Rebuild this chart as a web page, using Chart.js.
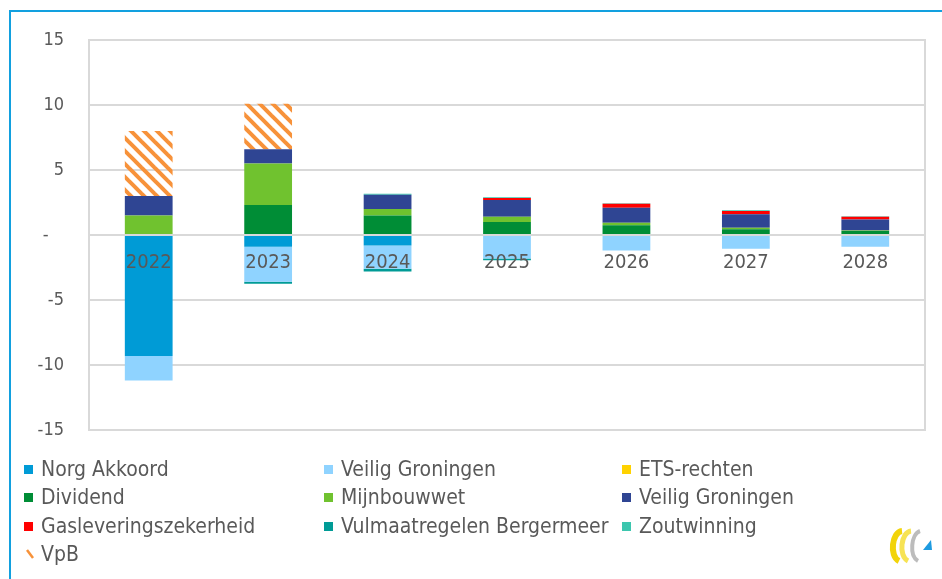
<!DOCTYPE html>
<html>
<head>
<meta charset="utf-8">
<script src="https://cdn.jsdelivr.net/npm/chart.js@4/dist/chart.umd.min.js"></script>
<style>
html,body{margin:0;padding:0;background:#fff;}
#wrap{position:relative;width:942px;height:579px;overflow:hidden;font-family:"DejaVu Sans Condensed","DejaVu Sans",sans-serif;}
#c{position:absolute;left:0;top:0;}
#frame{position:absolute;left:9px;top:10px;width:1000px;height:1000px;border-top:2px solid #12a0df;border-left:2px solid #12a0df;pointer-events:none;}
.lg{position:absolute;font-size:21px;color:#595959;white-space:nowrap;line-height:24px;}
.sw{position:absolute;width:9px;height:9px;}
#logo{position:absolute;left:886px;top:526px;}
</style>
</head>
<body>
<div id="wrap">
<canvas id="c" width="942" height="579"></canvas>
<div id="frame"></div>
<div id="legend"></div>
<svg id="logo" width="50" height="40" viewBox="0 0 50 40">
  <path d="M16 5 C6 6 3 30 13 35" stroke="#f2d40a" stroke-width="6" fill="none"/>
  <path d="M25 5 C15 6 12 30 22 35" stroke="#f7e354" stroke-width="5" fill="none"/>
  <path d="M34 5 C25 8 23 30 32 35" stroke="#bcbcbc" stroke-width="4" fill="none"/>
  <polygon points="45,14 46,24 37,24" fill="#1e9be0"/>
</svg>
</div>
<script>
// ---- data ----
const years = ['2022', '2023', '2024', '2025', '2026', '2027', '2028'];
const yTicks = [15, 10, 5, 0, -5, -10, -15];

const norgAkkoord        = [-9.3, -0.9, -0.8, 0, 0, 0, 0];
const veiligGroningenNeg = [-1.9, -2.7, -1.8, -1.8, -1.2, -1.05, -0.9];
const etsRechten         = [0, 0, 0, 0, 0, 0, 0];
const dividend           = [0, 2.3, 1.5, 1.0, 0.75, 0.45, 0.3];
const mijnbouwwet        = [1.5, 3.2, 0.5, 0.4, 0.2, 0.1, 0.05];
const veiligGroningenPos = [1.5, 1.1, 1.1, 1.3, 1.15, 1.05, 0.85];
const gasleveringszekerheid = [0, 0, 0, 0.15, 0.3, 0.25, 0.2];
const vulmaatregelen     = [0, -0.15, -0.2, -0.15, 0, 0, 0];
const zoutwinning        = [0, 0, 0.08, 0.05, 0.05, 0.05, 0.05];
const vpb                = [5.0, 3.5, 0, 0, 0, 0, 0];

const seriesNames = ['Norg Akkoord', 'Veilig Groningen', 'ETS-rechten', 'Dividend', 'Mijnbouwwet',
  'Veilig Groningen', 'Gasleveringszekerheid', 'Vulmaatregelen Bergermeer', 'Zoutwinning', 'VpB'];
const seriesValues = [norgAkkoord, veiligGroningenNeg, etsRechten, dividend, mijnbouwwet,
  veiligGroningenPos, gasleveringszekerheid, vulmaatregelen, zoutwinning, vpb];
const seriesColors = ['#009bd6', '#8fd3ff', '#ffd200', '#008d36', '#70c22f',
  '#2f4593', '#ff0000', '#009b96', '#3cc6ae', '#f7923a'];

// ---- hatch pattern for VpB ----
function hatch(color) {
  const t = 13;
  const c = document.createElement('canvas');
  c.width = t; c.height = t;
  const g = c.getContext('2d');
  g.strokeStyle = color; g.lineWidth = 4;
  for (const o of [-t, 0, t]) {
    g.beginPath(); g.moveTo(o - 2, -2); g.lineTo(o + t + 2, t + 2); g.stroke();
  }
  return g.createPattern(c, 'repeat');
}

const datasets = seriesNames.map((n, i) => ({
  label: n,
  data: seriesValues[i],
  backgroundColor: i === 9 ? hatch(seriesColors[i]) : seriesColors[i],
  borderWidth: 0,
  stack: 's'
}));

const boxPlugin = {
  id: 'box',
  beforeDatasetsDraw(chart) {
    const a = chart.chartArea, ctx = chart.ctx;
    ctx.save();
    ctx.strokeStyle = '#d9d9d9'; ctx.lineWidth = 2;
    ctx.strokeRect(a.left, a.top, a.right - a.left, a.bottom - a.top);
    ctx.restore();
  }
};

const FONT = '"DejaVu Sans Condensed","DejaVu Sans",sans-serif';

new Chart(document.getElementById('c'), {
  type: 'bar',
  data: { labels: years, datasets },
  plugins: [boxPlugin],
  options: {
    responsive: false,
    animation: false,
    layout: { padding: { left: 0, right: 17, top: 40, bottom: 149 } },
    plugins: { legend: { display: false }, tooltip: { enabled: false } },
    datasets: { bar: { categoryPercentage: 1, barPercentage: 0.4 } },
    scales: {
      x: {
        stacked: true,
        position: { y: 0 },
        grid: { display: false, drawTicks: false },
        border: { display: false },
        ticks: { z: 1, color: '#595959', font: { family: FONT, size: 20 }, padding: 16, maxRotation: 0 }
      },
      y: {
        stacked: true,
        min: -15, max: 15,
        afterFit(s) { s.width = 89; },
        afterBuildTicks(s) { s.ticks = yTicks.map(v => ({ value: v })); },
        grid: { color: '#d9d9d9', lineWidth: 2, drawTicks: false },
        border: { color: '#d9d9d9', width: 2 },
        ticks: {
          color: '#595959', font: { family: FONT, size: 18 }, padding: 25,
          callback: v => v === 0 ? '-   ' : String(v)
        }
      }
    }
  }
});

// ---- legend (real text) ----
const colX = [24, 324, 622];
const rowY = [469, 497, 526, 554];
const lg = document.getElementById('legend');
seriesNames.forEach((n, i) => {
  const col = i % 3, row = Math.floor(i / 3);
  const x = colX[col], y = rowY[row];
  if (i === 9) {
    const s = document.createElementNS('http://www.w3.org/2000/svg', 'svg');
    s.setAttribute('width', '12'); s.setAttribute('height', '12');
    s.style.position = 'absolute'; s.style.left = (x + 1) + 'px'; s.style.top = (y - 6) + 'px';
    s.innerHTML = '<line x1="2" y1="2" x2="8" y2="10" stroke="' + seriesColors[i] + '" stroke-width="2.5"/>';
    lg.appendChild(s);
  } else {
    const sw = document.createElement('div');
    sw.className = 'sw';
    sw.style.left = x + 'px'; sw.style.top = (y - 4) + 'px';
    sw.style.background = seriesColors[i];
    lg.appendChild(sw);
  }
  const t = document.createElement('div');
  t.className = 'lg';
  t.textContent = n;
  t.style.left = (x + 17) + 'px'; t.style.top = (y - 12) + 'px';
  lg.appendChild(t);
});
</script>
</body>
</html>
